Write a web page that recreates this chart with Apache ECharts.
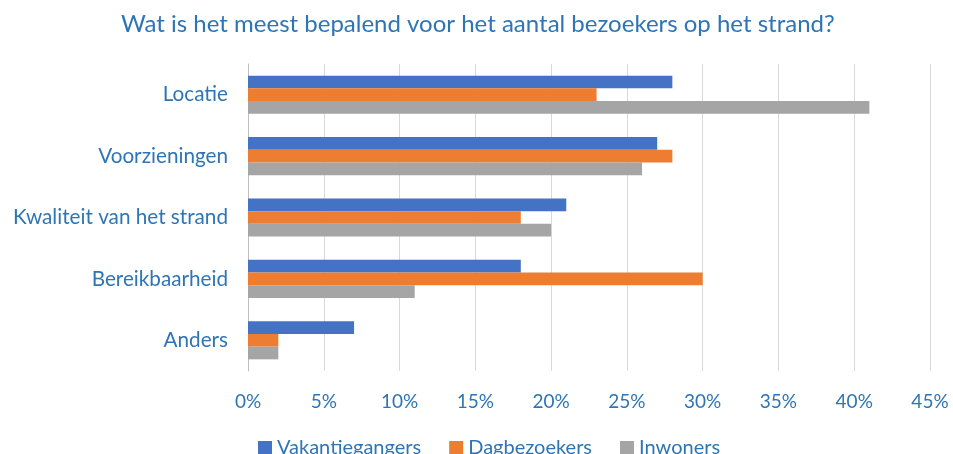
<!DOCTYPE html>
<html>
<head>
<meta charset="utf-8">
<script src="https://cdn.jsdelivr.net/npm/echarts@6/dist/echarts.min.js"></script>
<style>
  html, body { margin: 0; padding: 0; background: #fff; }
  #chart { width: 953px; height: 454px; }
</style>
</head>
<body>
<div id="chart"></div>
<script>
// categorieën en waarden (%)
var categories = ['Locatie', 'Voorzieningen', 'Kwaliteit van het strand', 'Bereikbaarheid', 'Anders'];
var seriesNames = ['Vakantiegangers', 'Dagbezoekers', 'Inwoners'];
var vakantiegangers = [28, 27, 21, 18, 7];
var dagbezoekers = [23, 28, 18, 30, 2];
var inwoners = [41, 26, 20, 11, 2];
var colors = ['#4472C4', '#ED7D31', '#A5A5A5'];

var textColor = '#2E75B6';
var font = 'Lato';

function barSeries(name, data, color) {
    return {
        name: name,
        type: 'bar',
        data: data,
        barGap: '0%',
        barCategoryGap: '38%',
        itemStyle: { color: color },
        emphasis: { disabled: true }
    };
}

var chart = echarts.init(document.getElementById('chart'));
var option = {
    animation: false,
    color: colors,
    title: {
        text: 'Wat is het meest bepalend voor het aantal bezoekers op het strand?',
        left: 116,
        top: 7,
        textStyle: { color: textColor, fontSize: 24, fontWeight: 'normal', fontFamily: font }
    },
    legend: {
        top: 433,
        left: 253,
        itemWidth: 14,
        itemHeight: 14,
        itemGap: 28,
        icon: 'rect',
        textStyle: { color: textColor, fontSize: 20, fontFamily: font },
        data: seriesNames
    },
    grid: { left: 248, right: 23, top: 64, bottom: 83 },
    xAxis: {
        type: 'value',
        min: 0,
        max: 45,
        interval: 5,
        axisLabel: {
            formatter: '{value}%',
            color: textColor,
            fontSize: 19,
            fontFamily: font,
            margin: 21
        },
        axisLine: { show: false },
        axisTick: { show: false },
        splitLine: { lineStyle: { color: '#D9D9D9', width: 1 } }
    },
    yAxis: {
        type: 'category',
        inverse: true,
        data: categories,
        axisLabel: { color: textColor, fontSize: 20.7, fontFamily: font, margin: 20 },
        axisLine: { lineStyle: { color: '#BFBFBF' } },
        axisTick: { show: false }
    },
    series: [
        barSeries(seriesNames[0], vakantiegangers, colors[0]),
        barSeries(seriesNames[1], dagbezoekers, colors[1]),
        barSeries(seriesNames[2], inwoners, colors[2])
    ]
};
chart.setOption(option);
</script>
</body>
</html>
